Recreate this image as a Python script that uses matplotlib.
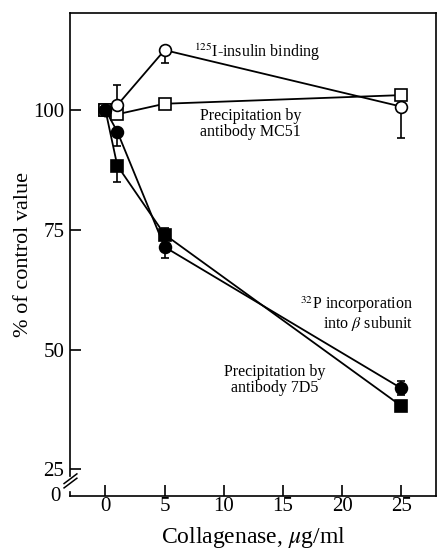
import numpy as np
import matplotlib.pyplot as plt

# collagenase dose (ug/ml)
dose = [0, 1, 5, 25]

# 125I-insulin binding (open circles)
insulin = [100, 101.0, 112.5, 100.7]
insulin_lo = [0, 0, 2.7, 6.5]
insulin_hi = [0, 4.3, 0, 0]

# precipitation by antibody MC51 (open squares)
mc51 = [100, 99.1, 101.3, 103.1]
mc51_lo = [0, 0.8, 0.8, 1.0]
mc51_hi = [0, 0.8, 0.8, 1.0]

# 32P incorporation into beta subunit (filled circles)
p32 = [100, 95.5, 71.4, 41.9]
p32_lo = [0, 3.1, 2.2, 1.5]
p32_hi = [0, 0, 0, 1.5]

# precipitation by antibody 7D5 (filled squares)
d7d5 = [100, 88.4, 74.0, 38.2]
d7d5_lo = [0, 3.5, 0, 1.0]
d7d5_hi = [0, 0, 1.3, 1.0]

xticks = [0, 5, 10, 15, 20, 25]
yticks = [25, 50, 75, 100]
ymin, ymax = 19.4, 120.2

plt.rcParams['font.family'] = 'Liberation Serif'
plt.rcParams['mathtext.fontset'] = 'stix'

fig = plt.figure(figsize=(4.37, 5.5), dpi=100)
ax = fig.add_axes([0.160, 0.098, 0.837, 0.878])

def serie(y, lo, hi, mk, fc, z):
    ax.errorbar(dose, y, yerr=[lo, hi], fmt='none', ecolor='black',
                elinewidth=1.2, capsize=3, capthick=1.2, zorder=z)
    ax.plot(dose, y, color='black', lw=1.3, marker=mk, ms=8.5,
            mfc=fc, mec='black', mew=1.2, zorder=z + 0.5)

serie(p32, p32_lo, p32_hi, 'o', 'black', 2)
serie(d7d5, d7d5_lo, d7d5_hi, 's', 'black', 2)
serie(mc51, mc51_lo, mc51_hi, 's', 'white', 3)
serie(insulin, insulin_lo, insulin_hi, 'o', 'white', 4)
# control point on top
ax.plot([0], [100], 'o', color='black', ms=8.5, zorder=6)

ax.set_xlim(-3.0, 27.9)
ax.set_ylim(ymin, ymax)
ax.set_xticks(xticks)
ax.set_yticks(yticks)
ax.tick_params(direction='in', length=8, width=1.2, labelsize=15)
ax.tick_params(axis='x', pad=1)
ax.tick_params(axis='y', pad=4)
for s in ax.spines.values():
    s.set_linewidth(1.2)

# broken y axis: gap in the left spine with two slashes
ax.spines['left'].set_bounds(23.6, ymax)
ax.plot([0, 0], [0, 0.008], transform=ax.transAxes, color='black', lw=1.2,
        clip_on=False, zorder=10)
for dy in (0.0, 0.009):
    ax.plot([-0.016, 0.019], [0.017 + dy, 0.037 + dy],
            transform=ax.transAxes, color='black', lw=1.1, clip_on=False,
            zorder=10)
ax.text(-0.025, 0.0, '0', transform=ax.transAxes, ha='right', va='center',
        fontsize=15)

ax.set_xlabel(r'Collagenase, $\mu$g/ml', fontsize=17, labelpad=6)
ax.set_ylabel('% of control value', fontsize=16, labelpad=0)

ax.text(7.5, 112.1, r'$^{125}$I-insulin binding', fontsize=11.5,
        ha='left', va='center')
ax.text(8.0, 97.1, 'Precipitation by\nantibody MC51', fontsize=11.5,
        ha='left', va='center', linespacing=0.95)
ax.text(26.0, 57.5, '$^{32}$P incorporation\ninto $\\beta$ subunit',
        fontsize=11.5, ha='right', va='center', linespacing=0.95)
ax.text(14.3, 43.6, 'Precipitation by\nantibody 7D5', fontsize=11.5,
        ha='center', va='center', linespacing=0.95)

fig.savefig('out.png', dpi=100)
